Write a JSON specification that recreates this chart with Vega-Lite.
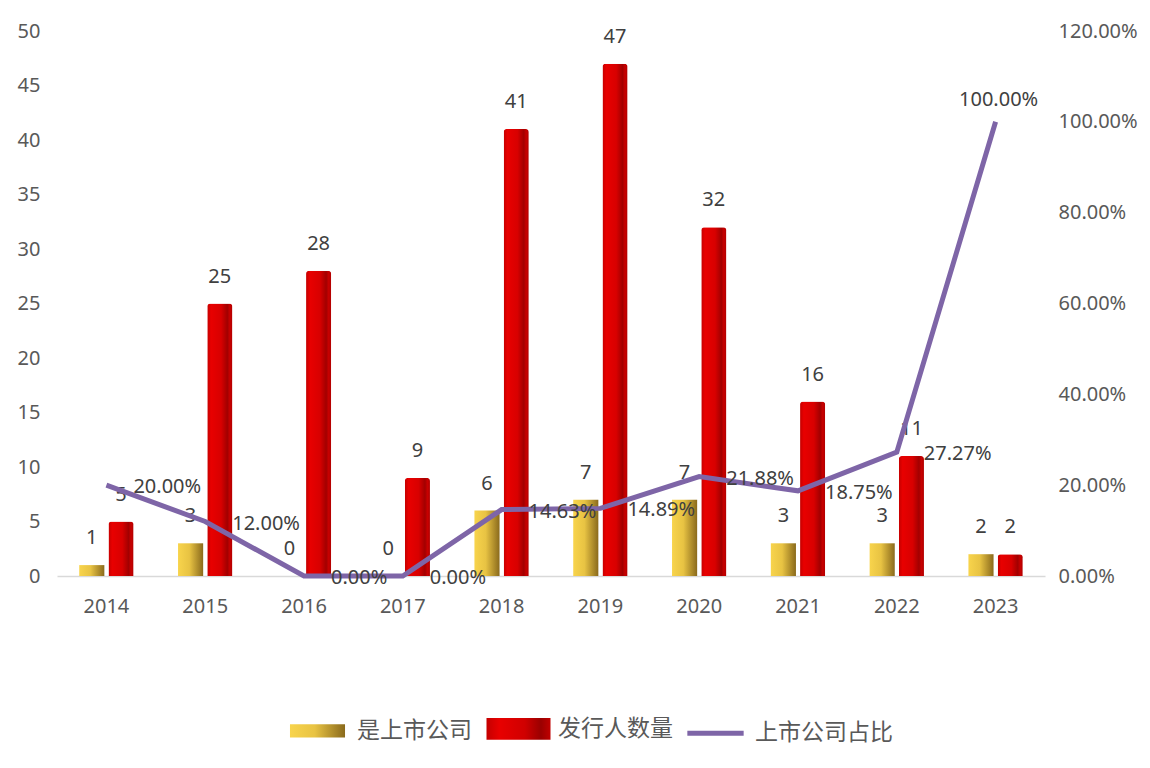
{
  "$schema": "https://vega.github.io/schema/vega-lite/v6.json",
  "width": 988,
  "height": 545,
  "autosize": {"type": "none"},
  "padding": {"left": 57, "top": 31, "right": 105, "bottom": 192},
  "background": "white",
  "config": {
    "view": {"stroke": null},
    "font": "Noto Sans",
    "axis": {
      "labelFont": "Noto Sans",
      "labelColor": "#595959",
      "labelFontSize": 20,
      "ticks": false,
      "grid": false,
      "title": null
    },
    "legend": {
      "labelFont": "Noto Sans CJK SC",
      "labelFontSize": 23,
      "labelColor": "#595959"
    }
  },
  "data": {
    "values": [
      {"year": "2014", "是上市公司": 1, "发行人数量": 5, "上市公司占比": 0.2},
      {"year": "2015", "是上市公司": 3, "发行人数量": 25, "上市公司占比": 0.12},
      {"year": "2016", "是上市公司": 0, "发行人数量": 28, "上市公司占比": 0.0},
      {"year": "2017", "是上市公司": 0, "发行人数量": 9, "上市公司占比": 0.0},
      {"year": "2018", "是上市公司": 6, "发行人数量": 41, "上市公司占比": 0.1463},
      {"year": "2019", "是上市公司": 7, "发行人数量": 47, "上市公司占比": 0.1489},
      {"year": "2020", "是上市公司": 7, "发行人数量": 32, "上市公司占比": 0.2188},
      {"year": "2021", "是上市公司": 3, "发行人数量": 16, "上市公司占比": 0.1875},
      {"year": "2022", "是上市公司": 3, "发行人数量": 11, "上市公司占比": 0.2727},
      {"year": "2023", "是上市公司": 2, "发行人数量": 2, "上市公司占比": 1.0}
    ]
  },
  "encoding": {
    "x": {
      "field": "year",
      "type": "ordinal",
      "scale": {"paddingInner": 0.45, "paddingOuter": 0.225},
      "axis": {
        "labelAngle": 0,
        "labelPadding": 20,
        "labelFontSize": 20,
        "domainColor": "#d9d9d9",
        "domainWidth": 1.5
      }
    }
  },
  "layer": [
    {
      "transform": [
        {"fold": ["是上市公司", "发行人数量"], "as": ["series", "count"]}
      ],
      "encoding": {
        "xOffset": {
          "field": "series",
          "type": "nominal",
          "sort": ["是上市公司", "发行人数量"],
          "scale": {"paddingInner": 0.14}
        },
        "y": {
          "field": "count",
          "type": "quantitative",
          "scale": {"domain": [0, 50]},
          "axis": {
            "orient": "left",
            "values": [0, 5, 10, 15, 20, 25, 30, 35, 40, 45, 50],
            "domain": false,
            "labelPadding": 17
          }
        },
        "opacity": {
          "field": "series",
          "type": "nominal",
          "scale": {
            "domain": ["是上市公司", "发行人数量", "上市公司占比"],
            "range": [1, 1, 1]
          },
          "legend": {
            "title": null,
            "orient": "none",
            "legendX": 226,
            "legendY": 663,
            "direction": "horizontal",
            "symbolSize": 4096,
            "labelOffset": 5,
            "columnPadding": 4,
            "encoding": {
              "symbols": {
                "shape": {"value": {"expr": "datum.value === '上市公司占比' ? 'M-0.88,0H0.88' : datum.value === '发行人数量' ? 'M-1,-0.34H1V0.34H-1Z' : 'M-0.86,-0.21H0.86V0.21H-0.86Z'"}},
                "fill": {"value": {"expr": "datum.value === '上市公司占比' ? 'transparent' : datum.value === '发行人数量' ? {gradient: 'linear', x1: 0, y1: 0, x2: 1, y2: 0, stops: [{offset: 0, color: '#c40000'}, {offset: 0.2, color: '#e80000'}, {offset: 0.6, color: '#d00000'}, {offset: 0.85, color: '#9a0000'}, {offset: 1, color: '#c00000'}]} : {gradient: 'linear', x1: 0, y1: 0, x2: 1, y2: 0, stops: [{offset: 0, color: '#f8d44c'}, {offset: 0.45, color: '#e8c343'}, {offset: 1, color: '#8a6a1c'}]}"}},
                "stroke": {"value": {"expr": "datum.value === '上市公司占比' ? '#7e65a7' : 'transparent'"}},
                "strokeWidth": {"value": 5},
                "opacity": {"value": 1}
              }
            }
          }
        }
      },
      "layer": [
        {
          "transform": [{"filter": "datum.series === '是上市公司'"}],
          "mark": {
            "type": "bar",
            "fill": {
              "gradient": "linear", "x1": 0, "y1": 0, "x2": 1, "y2": 0,
              "stops": [
                {"offset": 0, "color": "#f8d44c"},
                {"offset": 0.45, "color": "#e8c343"},
                {"offset": 1, "color": "#8a6a1c"}
              ]
            }
          }
        },
        {
          "transform": [{"filter": "datum.series === '发行人数量'"}],
          "mark": {
            "type": "bar",
            "cornerRadiusTopLeft": 3,
            "cornerRadiusTopRight": 3,
            "fill": {
              "gradient": "linear", "x1": 0, "y1": 0, "x2": 1, "y2": 0,
              "stops": [
                {"offset": 0, "color": "#c40000"},
                {"offset": 0.15, "color": "#e80000"},
                {"offset": 0.55, "color": "#d80000"},
                {"offset": 0.8, "color": "#a20000"},
                {"offset": 0.9, "color": "#c80000"},
                {"offset": 1, "color": "#b00000"}
              ]
            }
          }
        },
        {
          "mark": {"type": "text", "baseline": "alphabetic", "dy": -21, "fontSize": 20, "color": "#404040"},
          "encoding": {
            "text": {"field": "count", "type": "quantitative"}
          }
        }
      ]
    },
    {
      "encoding": {
        "y": {
          "field": "上市公司占比",
          "type": "quantitative",
          "scale": {"domain": [0, 1.2]},
          "axis": {
            "orient": "right",
            "format": ".2%",
            "values": [0, 0.2, 0.4, 0.6, 0.8, 1.0, 1.2],
            "domain": false,
            "labelPadding": 13
          }
        }
      },
      "layer": [
        {
          "mark": {"type": "line", "strokeWidth": 5, "strokeJoin": "miter", "color": "#7e65a7"},
          "encoding": {
            "opacity": {"datum": "上市公司占比", "type": "nominal"}
          }
        },
        {
          "transform": [{"filter": "datum.year !== '2023'"}],
          "mark": {"type": "text", "align": "left", "baseline": "middle", "dx": 27, "dy": 2, "fontSize": 20, "color": "#404040"},
          "encoding": {
            "text": {"field": "上市公司占比", "type": "quantitative", "format": ".2%"}
          }
        },
        {
          "transform": [{"filter": "datum.year === '2023'"}],
          "mark": {"type": "text", "align": "center", "baseline": "middle", "dx": 3, "dy": -22, "fontSize": 20, "color": "#404040"},
          "encoding": {
            "text": {"field": "上市公司占比", "type": "quantitative", "format": ".2%"}
          }
        }
      ]
    }
  ],
  "resolve": {"scale": {"y": "independent"}}
}
